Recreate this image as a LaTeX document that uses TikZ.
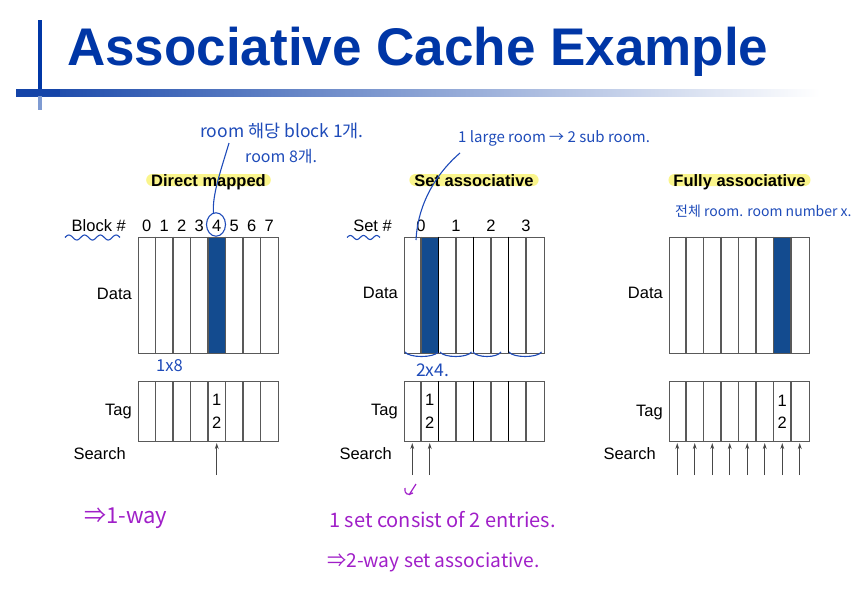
\documentclass[tikz,border=0pt]{standalone}
\usepackage{fontspec}
\setmainfont{Liberation Sans}
\newfontfamily\hand{Noto Sans CJK KR}
\usetikzlibrary{arrows.meta}
\definecolor{titleblue}{HTML}{0036A6}
\definecolor{barblue}{HTML}{1444A8}
\definecolor{barlight}{HTML}{7F9BD2}
\definecolor{cellblue}{HTML}{134B8F}
\definecolor{hblue}{HTML}{1E4BB9}
\definecolor{hpurple}{HTML}{A01FC8}
\definecolor{hlyellow}{HTML}{FAF58C}
\definecolor{boxgray}{HTML}{595959}
\begin{document}
\begin{tikzpicture}[x=1pt,y=-1pt,
  lbl/.style={font=\fontsize{16.5}{18}\selectfont, inner sep=0pt},
  hl/.style={font=\fontsize{16.5}{18}\selectfont\bfseries, fill=hlyellow, rounded corners=6pt, inner xsep=5pt, inner ysep=0pt, text height=12pt, text depth=0pt},
  cachebox/.style={draw=boxgray, line width=1.1pt, minimum width=140pt, inner sep=0pt, anchor=north west},
  cellline/.style={draw=boxgray, line width=1.1pt},
  setline/.style={draw=black, line width=1.1pt},
  arr/.style={draw=boxgray!80!black, line width=1pt, -{Stealth[length=6pt,width=4pt]}, shorten >=1.5pt},
  hb/.style={text=hblue, inner sep=0pt, font=\hand\fontsize{17.5}{19}\selectfont},
  hp/.style={text=hpurple, inner sep=0pt, font=\hand\fontsize{20}{22}\selectfont},
  hbline/.style={draw=hblue, line width=1.1pt},
  hpline/.style={draw=hpurple, line width=1.2pt}
]
\useasboundingbox (0,0) rectangle (859,589);
% ---- title and bars
\node[anchor=base west, inner sep=0pt, text=titleblue, font=\fontsize{53}{54}\selectfont\bfseries] (title) at (67,65) {Associative Cache Example};
\shade[left color=barblue, right color=white] (16,89) rectangle (820,96);
\fill[titleblue] (38,20) rectangle (42,89);
\fill[barlight] (38,96) rectangle (42,110);
\fill[barblue] (16,89) rectangle (60,96);

% ================= Direct mapped
\node[hl, anchor=base] (dmtitle) at (208.5,186) {Direct mapped};
\node[lbl, anchor=base east] (dmblock) at (126,231) {Block \#};
\foreach \i in {0,...,7} \node[lbl, anchor=base] (dmb\i) at (146.75+17.5*\i,231) {\i};
\fill[cellblue] (208,236.5) rectangle (225.5,352.5);
\node[cachebox, minimum height=116pt] (dmdata) at (138,236.5) {};
\foreach \i in {1,...,7} \draw[cellline] (138+17.5*\i,236.5) -- (138+17.5*\i,352.5);
\node[cachebox, minimum height=59.5pt] (dmtag) at (138,381) {};
\foreach \i in {1,...,7} \draw[cellline] (138+17.5*\i,381) -- (138+17.5*\i,440.5);
\node[lbl, anchor=base east] (dmdatal) at (132,299) {Data};
\node[lbl, anchor=base east] (dmtagl) at (132,415.5) {Tag};
\node[lbl, anchor=base east] (dmsearch) at (126,459) {Search};
\node[lbl, anchor=base] (dmt1) at (216.75,405.5) {1};
\node[lbl, anchor=base] (dmt2) at (216.75,428) {2};
\coordinate (dma) at (216.75,475);
\draw[arr] (dma) -- (dma |- dmtag.south);

% ================= Set associative
\node[hl, anchor=base] (satitle) at (474,186) {Set associative};
\node[lbl, anchor=base east] (saset) at (392,231) {Set \#};
\foreach \i in {0,...,3} \node[lbl, anchor=base] (sas\i) at (421+35*\i,231) {\i};
\fill[cellblue] (421,236.5) rectangle (438.5,352.5);
\node[cachebox, minimum height=116pt] (sadata) at (403.5,236.5) {};
\foreach \i in {1,3,5,7} \draw[cellline] (403.5+17.5*\i,236.5) -- (403.5+17.5*\i,352.5);
\foreach \i in {2,4,6} \draw[setline] (403.5+17.5*\i,236.5) -- (403.5+17.5*\i,352.5);
\node[cachebox, minimum height=59.5pt] (satag) at (403.5,381) {};
\foreach \i in {1,3,5,7} \draw[cellline] (403.5+17.5*\i,381) -- (403.5+17.5*\i,440.5);
\foreach \i in {2,4,6} \draw[setline] (403.5+17.5*\i,381) -- (403.5+17.5*\i,440.5);
\node[lbl, anchor=base east] (sadatal) at (398,298.5) {Data};
\node[lbl, anchor=base east] (satagl) at (398,415.5) {Tag};
\node[lbl, anchor=base east] (sasearch) at (392,459) {Search};
\node[lbl, anchor=base] (sat1) at (429.75,405.5) {1};
\node[lbl, anchor=base] (sat2) at (429.75,428) {2};
\coordinate (saa0) at (412.25,475);
\coordinate (saa1) at (429.75,475);
\draw[arr] (saa0) -- (saa0 |- satag.south);
\draw[arr] (saa1) -- (saa1 |- satag.south);

% ================= Fully associative
\node[hl, anchor=base] (fatitle) at (739.5,186) {Fully associative};
\fill[cellblue] (773.5,236.5) rectangle (791,352.5);
\node[cachebox, minimum height=116pt] (fadata) at (668.5,236.5) {};
\foreach \i in {1,...,7} \draw[cellline] (668.5+17.5*\i,236.5) -- (668.5+17.5*\i,352.5);
\node[cachebox, minimum height=59.5pt] (fatag) at (668.5,381) {};
\foreach \i in {1,...,7} \draw[cellline] (668.5+17.5*\i,381) -- (668.5+17.5*\i,440.5);
\node[lbl, anchor=base east] (fadatal) at (663,298) {Data};
\node[lbl, anchor=base east] (fatagl) at (663,416) {Tag};
\node[lbl, anchor=base east] (fasearch) at (656,459) {Search};
\node[lbl, anchor=base] (fat1) at (782.25,406) {1};
\node[lbl, anchor=base] (fat2) at (782.25,428) {2};
\foreach \i in {0,...,7} {
  \coordinate (faa\i) at (677.25+17.5*\i,475);
  \draw[arr] (faa\i) -- (faa\i |- fatag.south);
}

% ================= handwritten notes (blue)
\node[hb, anchor=base west] (n1) at (200,137) {room 해당 block 1개.};
\node[hb, anchor=base west, font=\hand\fontsize{16}{18}\selectfont] (n2) at (245,162) {room 8개.};
\draw[hbline] (216,224.5) ellipse [x radius=9.5, y radius=11.7];
\coordinate (c4top) at (213.5,213);
\draw[hbline] (229,143) .. controls (221,170) and (212,195) .. (c4top);
\draw[hbline] plot[domain=0:1, samples=60, smooth] ({65+55*\x},{237.5-2.5*sin(3.5*360*\x)});
\node[hb, anchor=base west, font=\hand\fontsize{16.5}{18}\selectfont] (n3) at (156,371) {1x8};

\node[hb, anchor=base west, font=\hand\fontsize{15}{17}\selectfont] (n4) at (458,142) {1 large room → 2 sub room.};
\coordinate (s0top) at (416,240);
\draw[hbline] (460,153) .. controls (440,170) and (418,200) .. (s0top);
\draw[hbline] plot[domain=0:1, samples=50, smooth] ({347+33*\x},{237.5-2*sin(2.5*360*\x)});
\foreach \a/\b in {405/438, 440/471.5, 473/501, 509/541.5}
  \draw[hbline] (\a,352) .. controls (\a+4,358) and (\b-4,358) .. (\b,352);
\node[hb, anchor=base west, font=\hand\fontsize{17.5}{19}\selectfont] (n5) at (416,376) {2x4.};
\node[hb, anchor=base west, font=\hand\fontsize{14}{16}\selectfont] (n6) at (675,216) {전체 room. room number x.};

% ================= handwritten notes (purple)
\node[hp, anchor=base west, font=\hand\fontsize{22}{24}\selectfont] (p1) at (84,523) {⇒1-way};
\draw[hpline] (416,484) -- (409,495) (405,488) .. controls (404,494) and (408,496) .. (413,493);
\node[hp, anchor=base west] (p2) at (329,527) {1 set consist of 2 entries.};
\node[hp, anchor=base west, font=\hand\fontsize{19.2}{21}\selectfont] (p3) at (327,567) {⇒2-way set associative.};
\end{tikzpicture}
\end{document}
